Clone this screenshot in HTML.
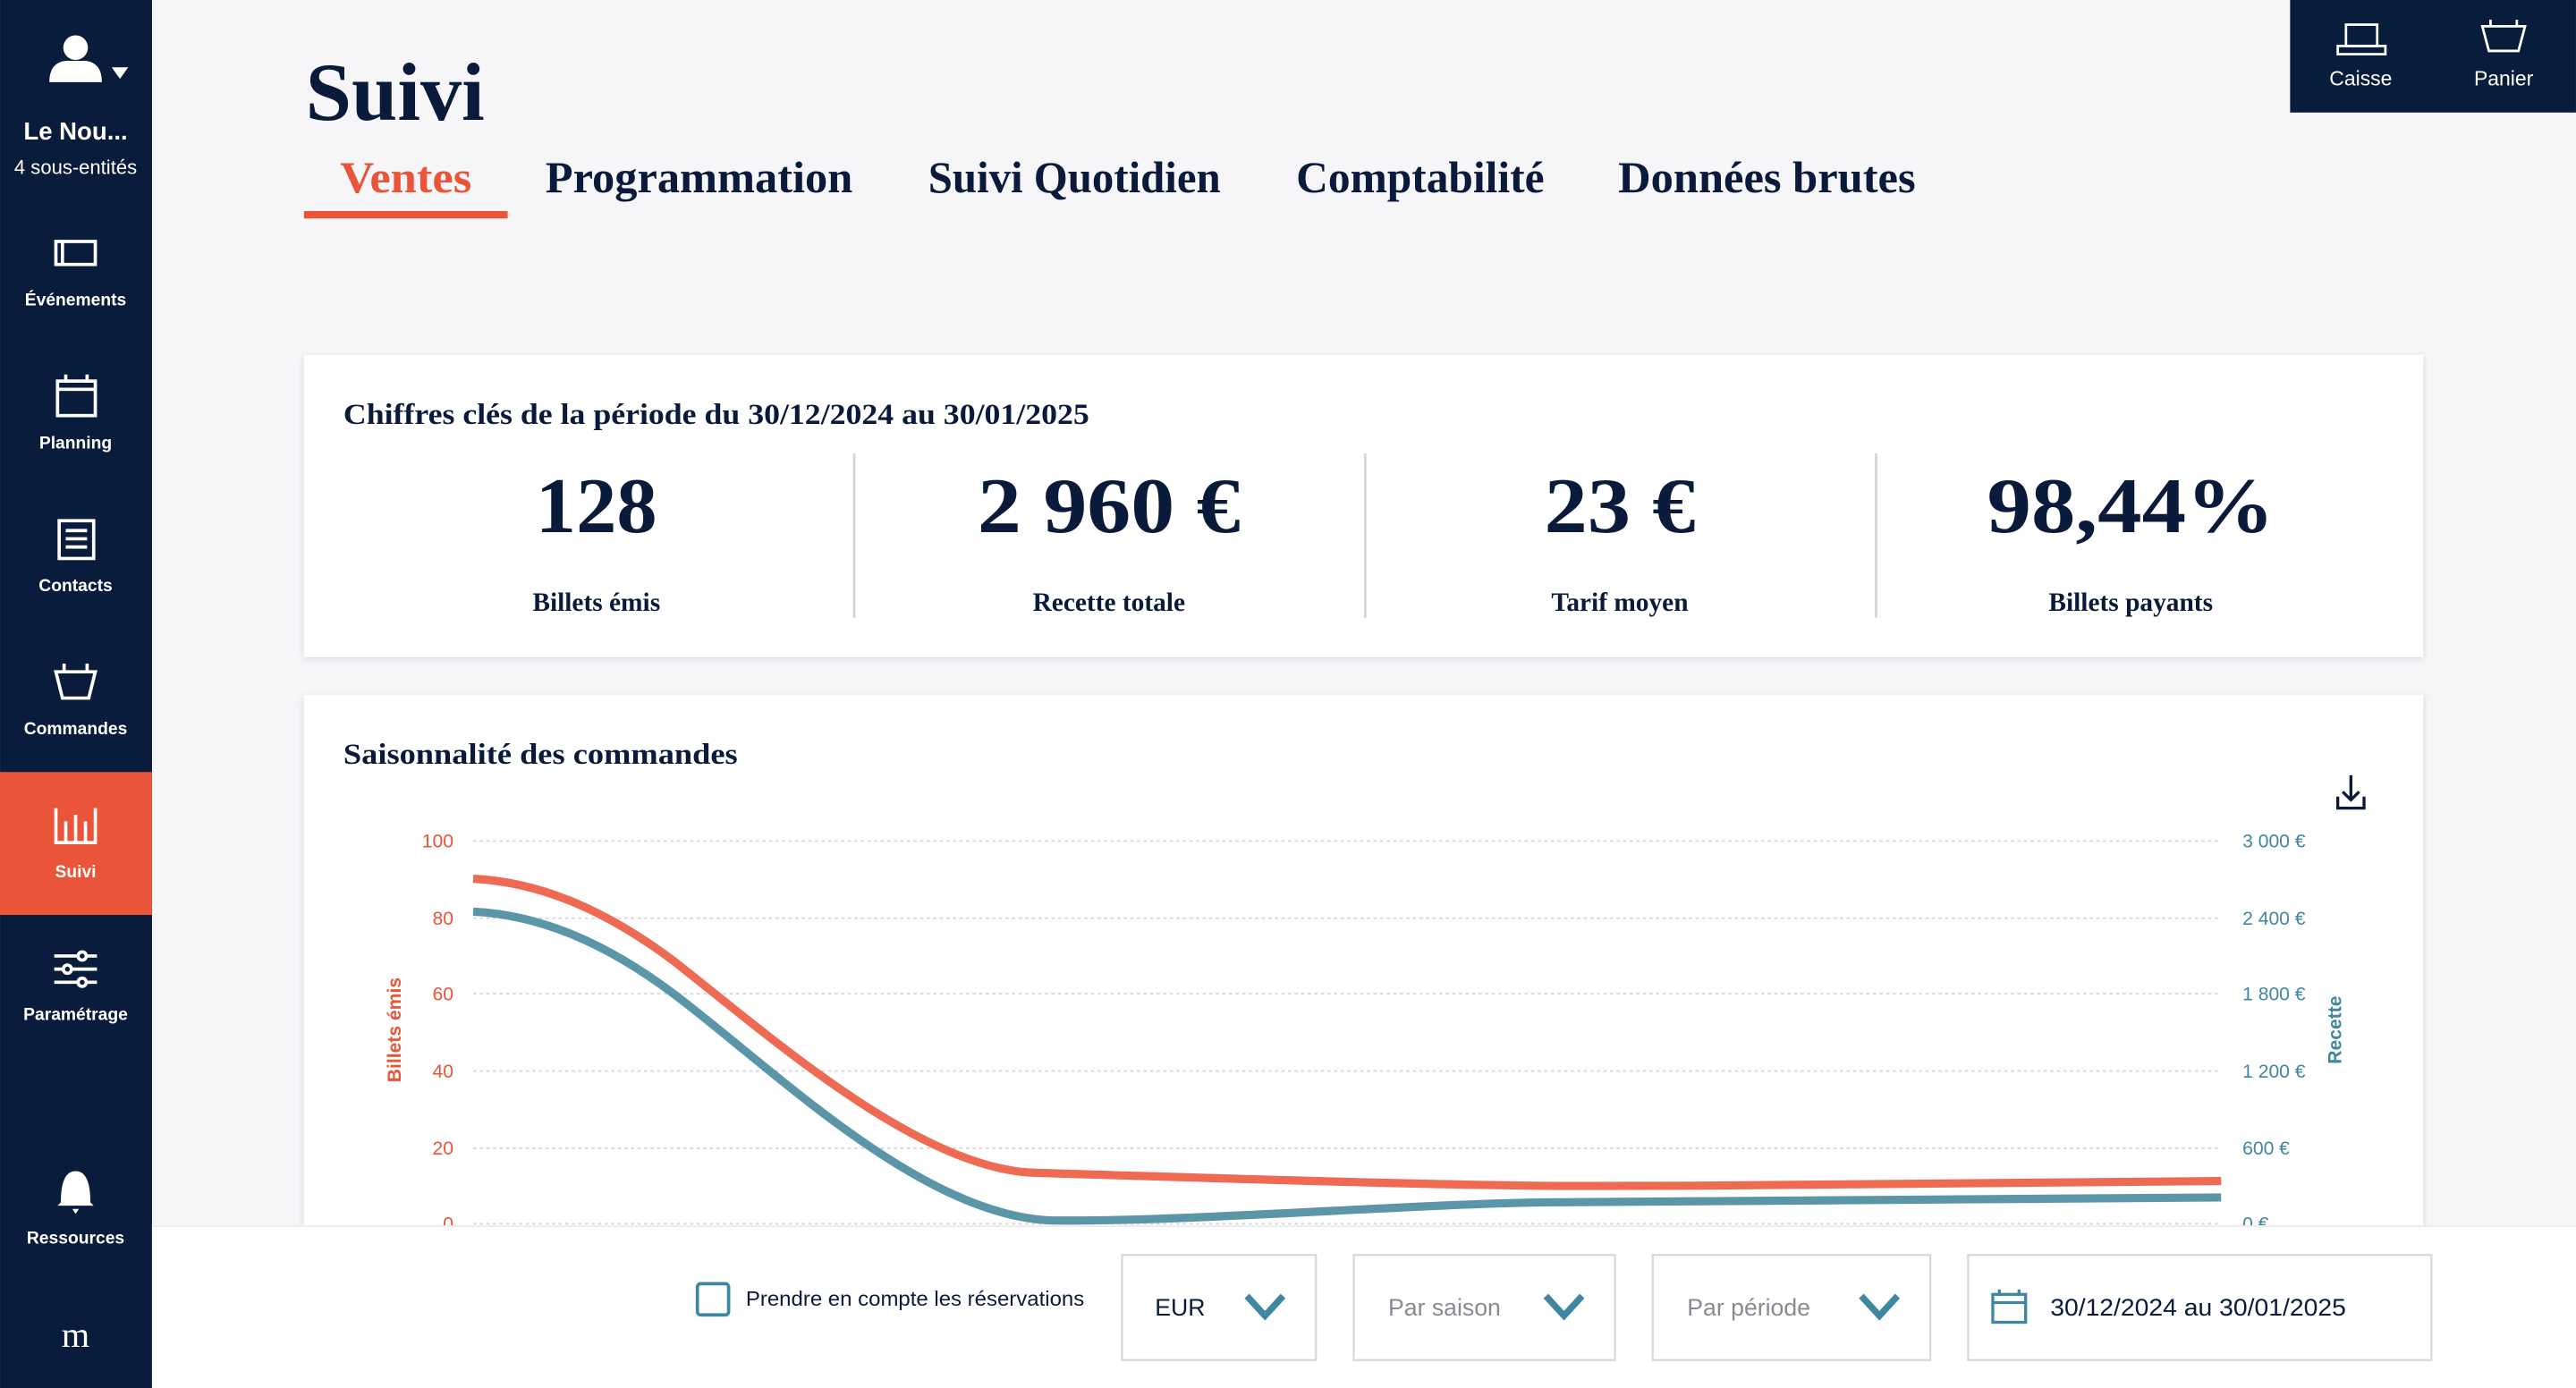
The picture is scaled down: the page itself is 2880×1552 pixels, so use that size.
<!DOCTYPE html>
<html><head><meta charset="utf-8"><style>
html,body{margin:0;padding:0;background:#f6f5f8;}
svg{display:block}
.s{font-family:"Liberation Serif",serif;font-weight:bold;fill:#0a1a3a}
.a{font-family:"Liberation Sans",sans-serif}
</style></head><body>
<svg width="2880" height="1552" viewBox="0 0 1568 845" xmlns="http://www.w3.org/2000/svg">
<defs>
<filter id="sh" x="-5%" y="-10%" width="110%" height="120%"><feDropShadow dx="0" dy="1" stdDeviation="2" flood-color="#000" flood-opacity="0.12"/></filter>
</defs>
<rect width="1568" height="845" fill="#f6f5f8"/>
<!-- sidebar -->
<rect x="0" y="0" width="92.5" height="845" fill="#0a1c3c"/>
<rect x="0" y="470" width="92.5" height="87" fill="#ea553a"/>
<g fill="#fff" class="a" font-weight="bold" text-anchor="middle" font-size="10.5">
<circle cx="46" cy="29" r="7.5"/><path d="M30,50 Q30,38 40,37 L52,37 Q62,38 62,50 Z"/>
<path d="M68,41 L78,41 L73,48 Z"/>
<text x="46" y="85" font-size="15" font-weight="600">Le Nou...</text>
<text x="46" y="106" font-size="12" font-weight="normal">4 sous-entités</text>
<text x="46" y="186">Événements</text>
<text x="46" y="273">Planning</text>
<text x="46" y="360">Contacts</text>
<text x="46" y="447">Commandes</text>
<text x="46" y="534">Suivi</text>
<text x="46" y="621">Paramétrage</text>
<text x="46" y="757">Ressources</text>
<text x="46" y="820" font-family="Liberation Serif" font-size="22" font-weight="normal">m</text>
</g>
<g stroke="#fff" stroke-width="2" fill="none">
<rect x="34" y="147" width="24" height="14"/><line x1="38" y1="147" x2="38" y2="161"/>
<rect x="35" y="232" width="23" height="21"/><line x1="35" y1="237" x2="58" y2="237"/><line x1="40" y1="228" x2="40" y2="233"/><line x1="53" y1="228" x2="53" y2="233"/>
<rect x="36" y="317" width="21" height="23"/><line x1="40" y1="323" x2="53" y2="323"/><line x1="40" y1="328" x2="53" y2="328"/><line x1="40" y1="333" x2="53" y2="333"/>
<path d="M34,409 L58,409 L54,425 L38,425 Z"/><line x1="39" y1="404" x2="39" y2="409"/><line x1="53" y1="404" x2="53" y2="409"/>
<path d="M34,492 L34,513 L58,513 L58,492 M40,500 L40,513 M46,496 L46,513 M52,500 L52,513"/>
<path d="M33,582 L59,582 M33,590 L59,590 M33,598 L59,598"/>
<circle cx="50" cy="582" r="2.5" fill="#0a1c3c"/><circle cx="41" cy="590" r="2.5" fill="#0a1c3c"/><circle cx="50" cy="598" r="2.5" fill="#0a1c3c"/>
</g>
<path d="M37,732 Q37,713 46,713 Q55,713 55,732 L57,734 L35,734 Z M44,736 L48,736 L46,739 Z" fill="#fff"/>
<!-- top right -->
<rect x="1394" y="0" width="174" height="68.5" fill="#081c3c"/>
<g stroke="#fff" stroke-width="1.5" fill="none">
<rect x="1428" y="15" width="19" height="13"/><rect x="1423" y="28" width="29" height="5"/>
<path d="M1511,16 L1537,16 L1533,31 L1515,31 Z"/><line x1="1516" y1="12" x2="1516" y2="16"/><line x1="1532" y1="12" x2="1532" y2="16"/>
</g>
<g fill="#fff" class="a" font-size="12.5" text-anchor="middle"><text x="1437" y="52">Caisse</text><text x="1524" y="52">Panier</text></g>
<!-- header -->
<text class="s" x="186" y="73" font-size="50" textLength="109" lengthAdjust="spacingAndGlyphs">Suivi</text>
<g class="s" font-size="27">
<text x="207" y="117" fill="#ea553a" textLength="80" lengthAdjust="spacingAndGlyphs">Ventes</text>
<text x="332" y="117" textLength="187" lengthAdjust="spacingAndGlyphs">Programmation</text>
<text x="565" y="117" textLength="178" lengthAdjust="spacingAndGlyphs">Suivi Quotidien</text>
<text x="789" y="117" textLength="151" lengthAdjust="spacingAndGlyphs">Comptabilité</text>
<text x="985" y="117" textLength="181" lengthAdjust="spacingAndGlyphs">Données brutes</text>
</g>
<rect x="185" y="128.5" width="124" height="4.5" fill="#ea553a"/>
<!-- card 1 -->
<rect x="185" y="216" width="1290" height="184" fill="#fff" filter="url(#sh)"/>
<text class="s" x="209" y="258" font-size="18" textLength="454" lengthAdjust="spacingAndGlyphs">Chiffres clés de la période du 30/12/2024 au 30/01/2025</text>
<g stroke="#d4d4d8" stroke-width="1.5"><line x1="520" y1="276" x2="520" y2="376"/><line x1="831" y1="276" x2="831" y2="376"/><line x1="1142" y1="276" x2="1142" y2="376"/></g>
<g class="s" text-anchor="middle">
<text x="363" y="324" font-size="48" textLength="74" lengthAdjust="spacingAndGlyphs">128</text>
<text x="675" y="324" font-size="48" textLength="160" lengthAdjust="spacingAndGlyphs">2 960 €</text>
<text x="986" y="324" font-size="48" textLength="92" lengthAdjust="spacingAndGlyphs">23 €</text>
<text x="1297" y="324" font-size="48" textLength="175" lengthAdjust="spacingAndGlyphs">98,44%</text>
<g font-size="16"><text x="363" y="372">Billets émis</text><text x="675" y="372">Recette totale</text><text x="986" y="372">Tarif moyen</text><text x="1297" y="372">Billets payants</text></g>
</g>
<!-- card 2 -->
<rect x="185" y="423" width="1290" height="340" fill="#fff" filter="url(#sh)"/>
<text class="s" x="209" y="465" font-size="18" textLength="240" lengthAdjust="spacingAndGlyphs">Saisonnalité des commandes</text>
<g stroke="#0a1a3a" stroke-width="1.8" fill="none"><path d="M1431,472 L1431,487 M1426,482 L1431,487 L1436,482 M1423,485 L1423,492 L1439,492 L1439,485"/></g>
<g stroke="#d8d8dc" stroke-width="1" stroke-dasharray="2,2">
<line x1="288" y1="512" x2="1352" y2="512"/><line x1="288" y1="559" x2="1352" y2="559"/><line x1="288" y1="605" x2="1352" y2="605"/><line x1="288" y1="652" x2="1352" y2="652"/><line x1="288" y1="699" x2="1352" y2="699"/><line x1="288" y1="745" x2="1352" y2="745"/>
</g>
<g class="a" font-size="11.5" fill="#ea553a" text-anchor="end">
<text x="276" y="516">100</text><text x="276" y="563">80</text><text x="276" y="609">60</text><text x="276" y="656">40</text><text x="276" y="703">20</text><text x="276" y="749">0</text>
</g>
<g class="a" font-size="11.5" fill="#3f87a0">
<text x="1365" y="516">3 000 €</text><text x="1365" y="563">2 400 €</text><text x="1365" y="609">1 800 €</text><text x="1365" y="656">1 200 €</text><text x="1365" y="703">600 €</text><text x="1365" y="749">0 €</text>
</g>
<text class="a" font-size="11.5" font-weight="bold" fill="#ea553a" text-anchor="middle" transform="translate(244,627) rotate(-90)">Billets émis</text>
<text class="a" font-size="11.5" font-weight="bold" fill="#3f87a0" text-anchor="middle" transform="translate(1425,627) rotate(-90)">Recette</text>
<path d="M288,535 C330,537 370,555 410,585 C470,632 560,712 630,714 C700,716 880,722 960,722 C1100,722 1250,720 1352,719" stroke="#ee6a52" stroke-width="5" fill="none"/>
<path d="M288,555 C330,557 370,575 410,605 C470,650 560,740 640,743 C720,744 860,733 940,732 C1100,731 1250,730 1352,729" stroke="#5a96a8" stroke-width="5" fill="none"/>
<!-- bottom bar -->
<rect x="92.5" y="746" width="1476" height="99" fill="#fff"/>
<line x1="92.5" y1="746.5" x2="1568" y2="746.5" stroke="#ececef" stroke-width="1"/>
<rect x="424.5" y="781.5" width="19" height="19" rx="2" fill="none" stroke="#3f87a0" stroke-width="2"/>
<text class="a" x="454" y="795" font-size="12.5" fill="#0a1a3a" textLength="206" lengthAdjust="spacingAndGlyphs">Prendre en compte les réservations</text>
<g fill="#fff" stroke="#d8d8dc" stroke-width="1.2">
<rect x="683" y="764" width="118" height="64"/><rect x="824" y="764" width="159" height="64"/><rect x="1006" y="764" width="169" height="64"/><rect x="1198" y="764" width="282" height="64"/>
</g>
<g class="a" font-size="14.5">
<text x="703" y="801" fill="#0a1a3a">EUR</text>
<text x="845" y="801" fill="#8a8a92">Par saison</text>
<text x="1027" y="801" fill="#8a8a92">Par période</text>
<text x="1248" y="801" fill="#0a1a3a" textLength="180" lengthAdjust="spacingAndGlyphs">30/12/2024 au 30/01/2025</text>
</g>
<g stroke="#3f87a0" stroke-width="4" fill="none" stroke-linejoin="miter">
<path d="M759,789 L770,801 L781,789"/><path d="M941,789 L952,801 L963,789"/><path d="M1133,789 L1144,801 L1155,789"/>
</g>
<g stroke="#3f87a0" stroke-width="1.8" fill="none"><rect x="1213" y="788" width="20" height="17"/><line x1="1213" y1="793" x2="1233" y2="793"/><line x1="1217" y1="785" x2="1217" y2="789"/><line x1="1229" y1="785" x2="1229" y2="789"/></g>
</svg>
</body></html>
